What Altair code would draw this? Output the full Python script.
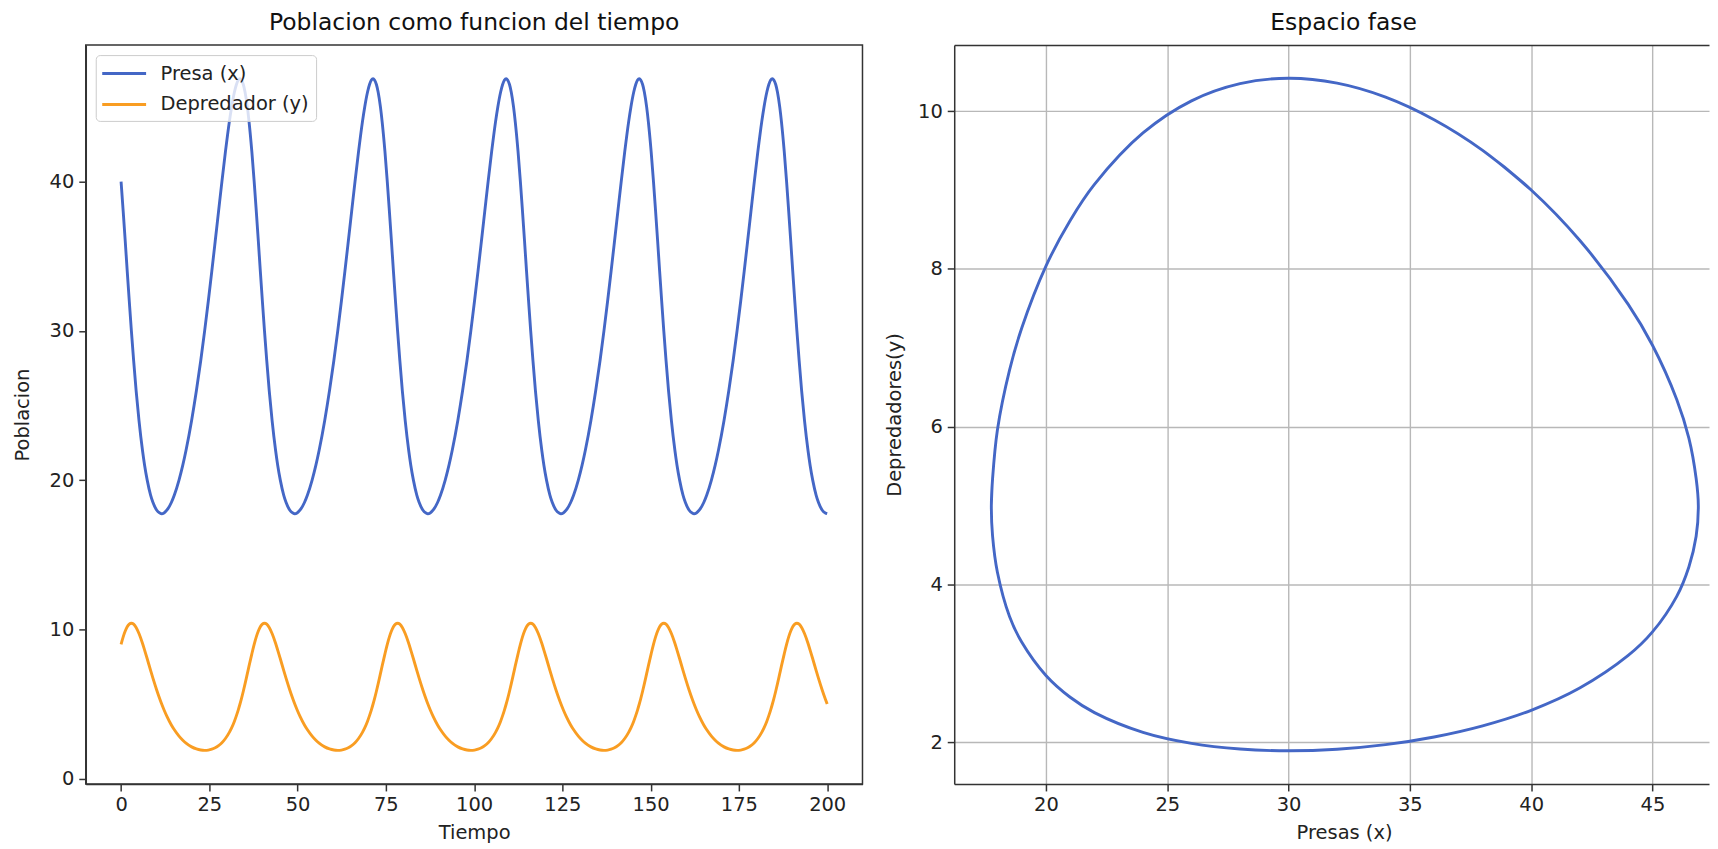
import altair as alt
import pandas as pd

# ---- time series (tiempo, presa x, depredador y) ----
tiempo = [
    0.00, 0.60, 1.18, 1.74, 2.32, 2.92, 3.56, 4.26, 5.07, 6.06, 6.66, 7.40, 8.36, 9.04,
    10.06, 10.97, 11.50, 12.15, 13.02, 14.24, 15.09, 16.41, 17.48, 18.40, 19.98, 21.34,
    22.56, 23.67, 24.71, 25.70, 26.66, 27.61, 28.56, 29.56, 30.66, 31.31, 32.11, 32.67, 33.20,
    33.68, 34.08, 34.62, 35.11, 35.76, 36.25, 37.04, 37.70, 38.30, 38.88, 39.44, 40.02, 40.62,
    41.26, 41.96, 42.77, 43.76, 44.36, 45.10, 46.06, 46.74, 47.76, 48.67, 49.20, 49.85, 50.72,
    51.94, 52.79, 54.11, 55.18, 56.10, 57.68, 59.04, 60.26, 61.37, 62.41, 63.40, 64.36, 65.31,
    66.26, 67.26, 68.36, 69.01, 69.81, 70.37, 70.90,
    71.38, 71.78, 72.32, 72.81, 73.46, 73.95, 74.74, 75.40, 76.00, 76.58, 77.14, 77.72, 78.32,
    78.96, 79.66, 80.47, 81.46, 82.06, 82.80, 83.76, 84.44, 85.46, 86.37, 86.90, 87.55, 88.42,
    89.64, 90.49, 91.81, 92.88, 93.80, 95.38, 96.74, 97.96, 99.07, 100.11, 101.10, 102.06, 103.01,
    103.96, 104.96, 106.06, 106.71, 107.51, 108.07, 108.60,
    109.08, 109.48, 110.02, 110.51, 111.16, 111.65, 112.44, 113.10, 113.70, 114.28, 114.84, 115.42, 116.02,
    116.66, 117.36, 118.17, 119.16, 119.76, 120.50, 121.46, 122.14, 123.16, 124.07, 124.60, 125.25, 126.12,
    127.34, 128.19, 129.51, 130.58, 131.50, 133.08, 134.44, 135.66, 136.77, 137.81, 138.80, 139.76, 140.71,
    141.66, 142.66, 143.76, 144.41, 145.21, 145.77, 146.30,
    146.78, 147.18, 147.72, 148.21, 148.86, 149.35, 150.14, 150.80, 151.40, 151.98, 152.54, 153.12, 153.72,
    154.36, 155.06, 155.87, 156.86, 157.46, 158.20, 159.16, 159.84, 160.86, 161.77, 162.30, 162.95, 163.82,
    165.04, 165.89, 167.21, 168.28, 169.20, 170.78, 172.14, 173.36, 174.47, 175.51, 176.50, 177.46, 178.41,
    179.36, 180.36, 181.46, 182.11, 182.91, 183.47, 184.00,
    184.48, 184.88, 185.42, 185.91, 186.56, 187.05, 187.84, 188.50, 189.10, 189.68, 190.24, 190.82, 191.42,
    192.06, 192.76, 193.57, 194.56, 195.16, 195.90, 196.86, 197.54, 198.56, 199.47, 200.00,
]

presa = [
    40.0, 38.0, 36.0, 34.0, 32.0, 30.0, 28.0, 26.0, 24.0, 22.0, 21.0, 20.0, 19.0, 18.5,
    18.0, 17.8, 17.75, 17.8, 18.0, 18.5, 19.0, 20.0, 21.0, 22.0, 24.0, 26.0,
    28.0, 30.0, 32.0, 34.0, 36.0, 38.0, 40.0, 42.0, 44.0, 45.0, 46.0, 46.5, 46.8,
    46.89, 46.8, 46.5, 46.0, 45.0, 44.0, 42.0, 40.0, 38.0, 36.0, 34.0, 32.0, 30.0,
    28.0, 26.0, 24.0, 22.0, 21.0, 20.0, 19.0, 18.5, 18.0, 17.8, 17.75, 17.8, 18.0,
    18.5, 19.0, 20.0, 21.0, 22.0, 24.0, 26.0, 28.0, 30.0, 32.0, 34.0, 36.0, 38.0,
    40.0, 42.0, 44.0, 45.0, 46.0, 46.5, 46.8,
    46.89, 46.8, 46.5, 46.0, 45.0, 44.0, 42.0, 40.0, 38.0, 36.0, 34.0, 32.0, 30.0,
    28.0, 26.0, 24.0, 22.0, 21.0, 20.0, 19.0, 18.5, 18.0, 17.8, 17.75, 17.8, 18.0,
    18.5, 19.0, 20.0, 21.0, 22.0, 24.0, 26.0, 28.0, 30.0, 32.0, 34.0, 36.0, 38.0,
    40.0, 42.0, 44.0, 45.0, 46.0, 46.5, 46.8,
    46.89, 46.8, 46.5, 46.0, 45.0, 44.0, 42.0, 40.0, 38.0, 36.0, 34.0, 32.0, 30.0,
    28.0, 26.0, 24.0, 22.0, 21.0, 20.0, 19.0, 18.5, 18.0, 17.8, 17.75, 17.8, 18.0,
    18.5, 19.0, 20.0, 21.0, 22.0, 24.0, 26.0, 28.0, 30.0, 32.0, 34.0, 36.0, 38.0,
    40.0, 42.0, 44.0, 45.0, 46.0, 46.5, 46.8,
    46.89, 46.8, 46.5, 46.0, 45.0, 44.0, 42.0, 40.0, 38.0, 36.0, 34.0, 32.0, 30.0,
    28.0, 26.0, 24.0, 22.0, 21.0, 20.0, 19.0, 18.5, 18.0, 17.8, 17.75, 17.8, 18.0,
    18.5, 19.0, 20.0, 21.0, 22.0, 24.0, 26.0, 28.0, 30.0, 32.0, 34.0, 36.0, 38.0,
    40.0, 42.0, 44.0, 45.0, 46.0, 46.5, 46.8,
    46.89, 46.8, 46.5, 46.0, 45.0, 44.0, 42.0, 40.0, 38.0, 36.0, 34.0, 32.0, 30.0,
    28.0, 26.0, 24.0, 22.0, 21.0, 20.0, 19.0, 18.5, 18.0, 17.8, 17.75,
]

depredador = [
    9.0, 9.502, 9.89, 10.176, 10.353, 10.415, 10.347, 10.129, 9.722, 9.071, 8.614, 8.035, 7.248, 6.717,
    5.96, 5.338, 5.0, 4.617, 4.157, 3.596, 3.272, 2.849, 2.573, 2.379, 2.129, 1.989,
    1.917, 1.895, 1.915, 1.973, 2.07, 2.211, 2.408, 2.69, 3.103, 3.401, 3.852, 4.224, 4.612,
    5.0, 5.344, 5.856, 6.346, 7.033, 7.551, 8.363, 9.0, 9.502, 9.89, 10.176, 10.353, 10.415,
    10.347, 10.129, 9.722, 9.071, 8.614, 8.035, 7.248, 6.717, 5.96, 5.338, 5.0, 4.617, 4.157,
    3.596, 3.272, 2.849, 2.573, 2.379, 2.129, 1.989, 1.917, 1.895, 1.915, 1.973, 2.07, 2.211,
    2.408, 2.69, 3.103, 3.401, 3.852, 4.224, 4.612,
    5.0, 5.344, 5.856, 6.346, 7.033, 7.551, 8.363, 9.0, 9.502, 9.89, 10.176, 10.353, 10.415,
    10.347, 10.129, 9.722, 9.071, 8.614, 8.035, 7.248, 6.717, 5.96, 5.338, 5.0, 4.617, 4.157,
    3.596, 3.272, 2.849, 2.573, 2.379, 2.129, 1.989, 1.917, 1.895, 1.915, 1.973, 2.07, 2.211,
    2.408, 2.69, 3.103, 3.401, 3.852, 4.224, 4.612,
    5.0, 5.344, 5.856, 6.346, 7.033, 7.551, 8.363, 9.0, 9.502, 9.89, 10.176, 10.353, 10.415,
    10.347, 10.129, 9.722, 9.071, 8.614, 8.035, 7.248, 6.717, 5.96, 5.338, 5.0, 4.617, 4.157,
    3.596, 3.272, 2.849, 2.573, 2.379, 2.129, 1.989, 1.917, 1.895, 1.915, 1.973, 2.07, 2.211,
    2.408, 2.69, 3.103, 3.401, 3.852, 4.224, 4.612,
    5.0, 5.344, 5.856, 6.346, 7.033, 7.551, 8.363, 9.0, 9.502, 9.89, 10.176, 10.353, 10.415,
    10.347, 10.129, 9.722, 9.071, 8.614, 8.035, 7.248, 6.717, 5.96, 5.338, 5.0, 4.617, 4.157,
    3.596, 3.272, 2.849, 2.573, 2.379, 2.129, 1.989, 1.917, 1.895, 1.915, 1.973, 2.07, 2.211,
    2.408, 2.69, 3.103, 3.401, 3.852, 4.224, 4.612,
    5.0, 5.344, 5.856, 6.346, 7.033, 7.551, 8.363, 9.0, 9.502, 9.89, 10.176, 10.353, 10.415,
    10.347, 10.129, 9.722, 9.071, 8.614, 8.035, 7.248, 6.717, 5.96, 5.338, 5.0,
]

series_labels = ["Presa (x)", "Depredador (y)"]
series_colors = ["#4467c6", "#f99d22"]

ticks_tiempo = [0, 25, 50, 75, 100, 125, 150, 175, 200]
ticks_poblacion = [0, 10, 20, 30, 40]
ticks_presas = [20, 25, 30, 35, 40, 45]
ticks_depred = [2, 4, 6, 8, 10]

FONT = "DejaVu Sans"
BLUE = series_colors[0]

df = pd.DataFrame({"tiempo": tiempo, "presa": presa, "depredador": depredador})
long = pd.concat([
    pd.DataFrame({"tiempo": tiempo, "valor": presa, "serie": series_labels[0]}),
    pd.DataFrame({"tiempo": tiempo, "valor": depredador, "serie": series_labels[1]}),
])

TITLE_KW = dict(fontSize=23.5, font=FONT, fontWeight="normal", color="#111",
                anchor="middle", offset=-8, baseline="alphabetic")

left = alt.Chart(long).mark_line(strokeWidth=2.9, interpolate="monotone").encode(
    x=alt.X("tiempo:Q", scale=alt.Scale(domain=[-10, 210], nice=False, zero=False),
            axis=alt.Axis(values=ticks_tiempo, title="Tiempo", grid=False)),
    y=alt.Y("valor:Q", scale=alt.Scale(domain=[-0.355, 49.14], nice=False, zero=False),
            axis=alt.Axis(values=ticks_poblacion, title="Poblacion", grid=False, titlePadding=17)),
    color=alt.Color("serie:N", sort=series_labels,
                    scale=alt.Scale(domain=series_labels, range=series_colors),
                    legend=alt.Legend(title=None, orient="top-left", offset=10, direction="vertical",
                                      symbolType="M-2.2,0H2.2", symbolStrokeWidth=2.9, symbolSize=400,
                                      symbolOffset=10,
                                      labelFontSize=19.5, labelFont=FONT, labelColor="#222",
                                      labelOffset=25, rowPadding=10, padding=7, labelLimit=400,
                                      fillColor="rgba(255,255,255,0.8)", strokeColor="#cccccc",
                                      cornerRadius=4)),
).properties(
    width=779, height=741,
    title=alt.Title("Poblacion como funcion del tiempo", **TITLE_KW),
    view=alt.ViewBackground(stroke="#333", strokeWidth=1.5),
)

x_fase = alt.Scale(domain=[16.22, 47.33], nice=False, zero=False)
y_fase = alt.Scale(domain=[1.475, 10.835], nice=False, zero=False)
y_fase_axis = alt.Axis(values=ticks_depred, title="Depredadores(y)", grid=True, titlePadding=13)

fase = alt.Chart(df).mark_line(strokeWidth=2.9, interpolate="catmull-rom", color=BLUE, clip=True).encode(
    x=alt.X("presa:Q", scale=x_fase,
            axis=alt.Axis(values=ticks_presas, title="Presas (x)", grid=True, titleX=391)),
    y=alt.Y("depredador:Q", scale=y_fase, axis=y_fase_axis),
    order=alt.Order("tiempo:Q"),
)
borde = alt.Chart(df).mark_point(opacity=0).encode(
    x=alt.X("presa:Q", scale=x_fase,
            axis=alt.Axis(orient="top", labels=False, ticks=False, title=None, grid=False,
                          domain=True, minExtent=0, maxExtent=0)),
    y=alt.Y("depredador:Q", scale=y_fase, axis=y_fase_axis),
)
right = alt.layer(fase, borde).resolve_axis(x="independent").properties(
    width=757, height=741,
    title=alt.Title("Espacio fase", dx=12, **TITLE_KW),
)

chart = alt.hconcat(left, right, spacing=20).properties(
    padding={"left": 3, "top": 0, "right": 0, "bottom": 0}
).configure_axis(
    labelFont=FONT, titleFont=FONT, labelFontSize=19.5, titleFontSize=19.5,
    labelColor="#222", titleColor="#222", titleFontWeight="normal",
    tickSize=7, tickWidth=1.5, tickColor="#333", domainColor="#333", domainWidth=1.5,
    labelPadding=5, titlePadding=9, gridColor="#b8b8b8", gridWidth=1.4,
).configure_view(stroke="transparent")

chart.save("out.html", embed_options={"renderer": "svg", "actions": False})
